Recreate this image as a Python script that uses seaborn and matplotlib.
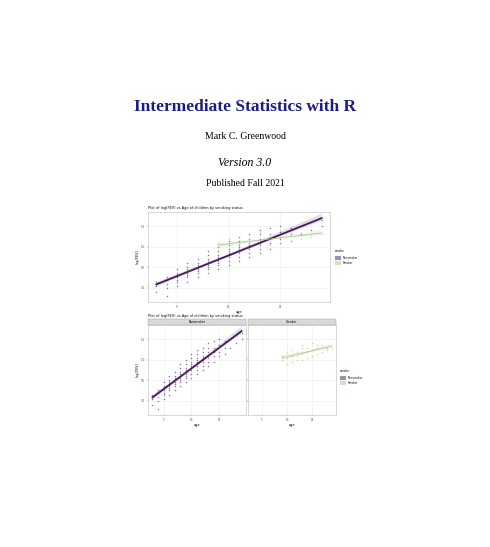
import matplotlib
matplotlib.use("Agg")
import matplotlib.pyplot as plt
import seaborn as sns
import pandas as pd

ns_ages = [3,4,5,6,7,8,9,10,11,12,13,14,15,16,17,18,19]
ns_values = [
    [-0.1,0.05,0.15],
    [-0.2,0.0,0.1,0.2,0.25],
    [0.05,0.15,0.2,0.25,0.3,0.35,0.45],
    [0.15,0.25,0.3,0.35,0.4,0.45,0.5,0.6],
    [0.25,0.35,0.4,0.45,0.5,0.55,0.6,0.7],
    [0.35,0.45,0.5,0.55,0.6,0.65,0.7,0.8,0.9],
    [0.45,0.55,0.6,0.65,0.7,0.75,0.8,0.9,1.0],
    [0.55,0.65,0.75,0.8,0.85,0.9,0.95,1.05,1.15],
    [0.65,0.75,0.85,0.9,0.95,1.0,1.05,1.15,1.25],
    [0.75,0.85,0.95,1.0,1.05,1.1,1.2,1.3],
    [0.85,0.95,1.05,1.1,1.2,1.3,1.4],
    [0.95,1.1,1.2,1.3,1.45],
    [1.1,1.2,1.35,1.5],
    [1.15,1.3,1.45],
    [1.3,1.5],
    [1.4,1.6],
    [1.5,1.65],
]
sm_ages = [9,10,11,12,13,14,15,16,17,18,19]
sm_values = [
    [1.0,1.1],
    [0.9,1.05,1.2],
    [0.95,1.1,1.25],
    [1.0,1.1,1.2],
    [1.0,1.15,1.3,1.35],
    [1.05,1.2,1.3],
    [1.1,1.25,1.4],
    [1.15,1.3,1.35],
    [1.2,1.35],
    [1.25,1.3],
    [1.3],
]
groups = ["Nonsmoker", "Smoker"]
colors = {"Nonsmoker": "#4a1a5e", "Smoker": "#a9c58a"}

rows = []
for a, vs in zip(ns_ages, ns_values):
    rows += [("Nonsmoker", a, v) for v in vs]
for a, vs in zip(sm_ages, sm_values):
    rows += [("Smoker", a, v) for v in vs]
df = pd.DataFrame(rows, columns=["smoke", "age", "logfev"])

fig = plt.figure(figsize=(4.9, 5.47), dpi=100)
serif = "Liberation Serif"
fig.text(0.5, 1-107/547, "Intermediate Statistics with R", ha="center", va="center",
         fontsize=12.5, color="#1c1c8a", family=serif, weight="bold")
fig.text(0.5, 1-137/547, "Mark C. Greenwood", ha="center", va="center", fontsize=7, family=serif)
fig.text(0.5, 1-163/547, "Version 3.0", ha="center", va="center", fontsize=8.5, family=serif, style="italic")
fig.text(0.5, 1-184/547, "Published Fall 2021", ha="center", va="center", fontsize=7, family=serif)

def style(ax, yl=True):
    ax.set_facecolor("white")
    ax.grid(True, color="#ebebeb", lw=0.4)
    ax.set_axisbelow(True)
    for s in ax.spines.values():
        s.set_color("#bbbbbb"); s.set_linewidth(0.4)
    ax.tick_params(labelsize=2, length=1, width=0.3, colors="#555555", pad=1)
    ax.set_xlim(2.2, 19.8)
    ax.set_ylim(-0.35, 1.85)
    ax.set_xticks([5, 10, 15])
    ax.set_yticks([0.0, 0.5, 1.0, 1.5])
    ax.set_xlabel("age", fontsize=2.5, labelpad=1)
    ax.set_ylabel("log(FEV)" if yl else "", fontsize=2.5, labelpad=1)

def draw(ax, sub, g):
    sns.regplot(data=sub, x="age", y="logfev", ax=ax, color=colors[g], n_boot=200, seed=1,
                scatter_kws=dict(s=1.2, alpha=0.6, linewidths=0),
                line_kws=dict(lw=1.3 if g == "Nonsmoker" else 0.6), truncate=True)

ax1 = fig.add_axes([148/490, 1-302/547, 182/490, 90/547])
for g in groups:
    draw(ax1, df[df.smoke == g], g)
style(ax1)
ax1.set_title("Plot of log(FEV) vs Age of children by smoking status", fontsize=2.5, loc="left", pad=2)
fig.text(335/490, 1-252/547, "smoke", fontsize=2.2)
for i, g in enumerate(groups):
    y = 1-(258+5*i)/547
    fig.patches.append(plt.Rectangle((335/490, y-0.004), 6/490, 0.008, transform=fig.transFigure,
                                     facecolor=colors[g], alpha=0.5, edgecolor="none"))
    fig.text(343/490, y, g, fontsize=2, va="center")

axL = fig.add_axes([148/490, 1-415/547, 98/490, 90/547])
axR = fig.add_axes([248/490, 1-415/547, 88/490, 90/547])
for ax, g in [(axL, "Nonsmoker"), (axR, "Smoker")]:
    draw(ax, df[df.smoke == g], g)
    style(ax, ax is axL)
    if ax is axR:
        ax.set_yticklabels([]); ax.set_ylabel("")
    ax.add_patch(plt.Rectangle((0, 1), 1, 0.07, transform=ax.transAxes, clip_on=False,
                               facecolor="#d9d9d9", edgecolor="#999999", lw=0.3))
    ax.text(0.5, 1.035, g, transform=ax.transAxes, ha="center", va="center", fontsize=2.2)
axL.set_title("Plot of log(FEV) vs Age of children by smoking status", fontsize=2.5, loc="left", pad=6)
fig.text(340/490, 1-372/547, "smoke", fontsize=2.2)
for i, g in enumerate(groups):
    y = 1-(378+5*i)/547
    fig.patches.append(plt.Rectangle((340/490, y-0.004), 6/490, 0.008, transform=fig.transFigure,
                                     facecolor=colors[g], alpha=0.5, edgecolor="none"))
    fig.text(348/490, y, g, fontsize=2, va="center")

fig.savefig("out.png", dpi=100)
